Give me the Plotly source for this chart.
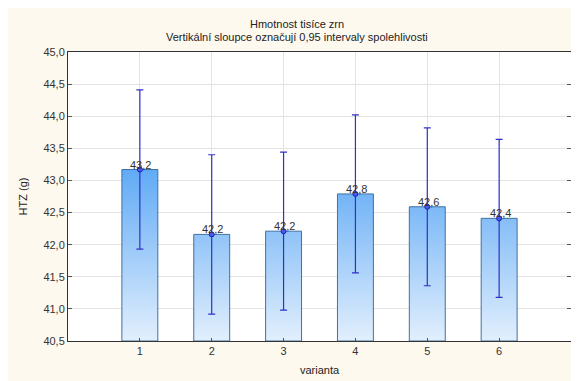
import plotly.graph_objects as go

categories = [1, 2, 3, 4, 5, 6]
means = [43.17, 42.16, 42.21, 42.79, 42.59, 42.41]
ci_half = [1.24, 1.24, 1.23, 1.23, 1.23, 1.23]
y_min, y_max = 40.5, 45.0
y_ticks = [40.5, 41.0, 41.5, 42.0, 42.5, 43.0, 43.5, 44.0, 44.5, 45.0]

FONT = "Liberation Sans, Arial, sans-serif"
bar_half = 0.25

fig = go.Figure()

for c, v in zip(categories, means):
    fig.add_trace(go.Scatter(
        x=[c - bar_half, c - bar_half, c + bar_half, c + bar_half, c - bar_half],
        y=[y_min, v, v, y_min, y_min],
        mode="lines",
        fill="toself",
        fillgradient=dict(type="vertical", start=y_min, stop=43.3,
                          colorscale=[[0, "#e2effd"], [1, "#5aa7f5"]]),
        line=dict(color="#41719f", width=1),
        hoverinfo="skip",
        showlegend=False,
    ))

labels = [f"{v:.1f}".replace(".", ",") for v in means]

fig.add_trace(go.Scatter(
    x=categories,
    y=means,
    mode="markers",
    marker=dict(size=5, color="#4a5cf0", line=dict(color="#1c1cb8", width=1)),
    error_y=dict(type="data", array=ci_half, visible=True,
                 color="#3030c8", thickness=1.2, width=3.5),
    showlegend=False,
))

annotations = [
    dict(x=c, y=v, xref="x", yref="y", text=t, showarrow=False,
         xanchor="center", yanchor="bottom", yshift=-3, xshift=1,
         font=dict(family=FONT, size=11, color="#333333"))
    for c, v, t in zip(categories, means, labels)
]
annotations += [
    dict(text="Hmotnost tisíce zrn", xref="paper", yref="paper",
         x=0.455, y=1.097, xanchor="center", yanchor="middle",
         showarrow=False, font=dict(family=FONT, size=11, color="#222222")),
    dict(text="Vertikální sloupce označují 0,95 intervaly spolehlivosti",
         xref="paper", yref="paper",
         x=0.455, y=1.053, xanchor="center", yanchor="middle",
         showarrow=False, font=dict(family=FONT, size=11, color="#222222")),
]

fig.update_layout(
    width=579, height=381,
    margin=dict(l=60, r=16, t=44, b=48),
    paper_bgcolor="#fdf9ee",
    plot_bgcolor="white",
    separators=", ",
    font=dict(family=FONT, size=11, color="#222222"),
    annotations=annotations,
)

fig.update_xaxes(
    range=[0, 7],
    tickvals=categories,
    ticktext=[str(c) for c in categories],
    ticks="inside", ticklen=3, tickcolor="#555555",
    showgrid=True, gridcolor="#e3e3e3", gridwidth=1,
    showline=True, linecolor="#333333", linewidth=1, mirror=True,
    zeroline=False,
    tickfont=dict(family=FONT, size=11, color="#333333"),
    title=dict(text="varianta", standoff=10,
               font=dict(family=FONT, size=11, color="#222222")),
)

fig.update_yaxes(
    range=[y_min, y_max],
    tickvals=y_ticks,
    tickformat=".1f",
    ticks="inside", ticklen=4, tickcolor="#555555",
    showgrid=True, gridcolor="#e3e3e3", gridwidth=1,
    showline=True, linecolor="#333333", linewidth=1, mirror="ticks",
    zeroline=False,
    tickfont=dict(family=FONT, size=11, color="#333333"),
    title=dict(text="HTZ (g)", standoff=13,
               font=dict(family=FONT, size=11, color="#222222")),
)

fig.write_html("out.html")
